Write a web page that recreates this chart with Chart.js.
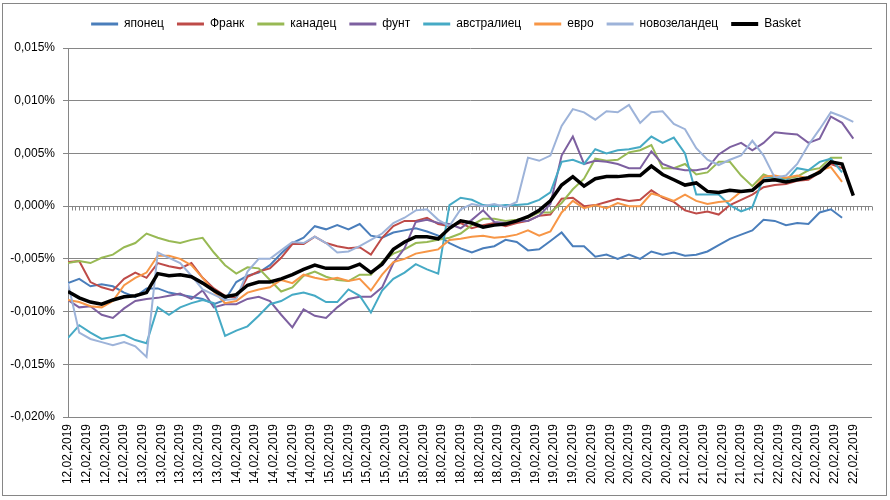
<!DOCTYPE html>
<html lang="ru">
<head>
<meta charset="utf-8">
<title>Basket</title>
<script src="https://cdn.jsdelivr.net/npm/chart.js@4.4.1/dist/chart.umd.min.js"></script>
<style>
  html, body { margin: 0; padding: 0; background: #fff; }
  #wrap { width: 890px; height: 500px; }
</style>
</head>
<body>
<div id="wrap"><canvas id="basket-chart" width="890" height="500"></canvas></div>
<script>
// Подписи оси X: дата на каждой пятой строке таблицы
var labelDays = ['12,02,2019', '13,02,2019', '14,02,2019', '15,02,2019', '18,02,2019',
                 '19,02,2019', '20,02,2019', '21,02,2019', '22,02,2019'];
var labelsPerDay = [4, 5, 5, 5, 5, 4, 5, 5, 5];

var ROWS = 216;       // строк (категорий) на оси X
var LABEL_STEP = 5;   // подпись у каждой пятой строки
var SAMPLE_STEP = 3;

// Подписи оси Y, в тысячных долях процента
var yTicks = [-20, -15, -10, -5, 0, 5, 10, 15];

// Значения рядов, в тысячных долях процента (0,001%)
var yen = [-7.3, -6.9, -7.6, -7.4, -7.6, -8.2, -8.6, -7.8, -7.8, -8.2,
           -8.4, -8.6, -8.8, -9.3, -8.9, -7.2, -6.6, -6.3, -5.6, -4.5,
           -3.5, -3.0, -1.9, -2.2, -1.8, -2.2, -1.7, -2.8, -3.0, -2.5,
           -2.3, -2.1, -2.4, -2.8, -3.5, -4.0, -4.4, -4.0, -3.8, -3.2,
           -3.4, -4.2, -4.1, -3.3, -2.5, -3.8, -3.8, -4.8, -4.6, -5.0,
           -4.6, -5.0, -4.3, -4.6, -4.4, -4.7, -4.6, -4.3, -3.7, -3.1,
           -2.7, -2.3, -1.3, -1.4, -1.8, -1.6, -1.7, -0.6, -0.3, -1.1,
           null];
var franc = [-5.3, -5.2, -7.2, -7.7, -8.0, -6.9, -6.3, -6.8, -5.4, -5.7,
             -5.9, -5.4, -6.8, -7.8, -8.5, -8.7, -6.7, -6.2, -5.9, -4.9,
             -3.6, -3.6, -2.9, -3.5, -3.8, -4.0, -3.9, -4.6, -3.0, -1.9,
             -1.4, -1.4, -1.1, -1.7, -1.9, -1.6, -2.1, -1.8, -1.6, -1.9,
             -1.6, -1.4, -0.9, -0.8, 0.7, 0.8, 0.0, 0.1, 0.4, 0.7,
             0.5, 0.6, 1.5, 0.8, 0.4, -0.4, -0.7, -0.5, -0.8, 0.1,
             0.6, 1.1, 1.8, 2.0, 2.1, 2.4, 2.5, 3.2, 4.0, 3.6,
             null];
var cad = [-5.4, -5.2, -5.4, -4.9, -4.6, -3.9, -3.5, -2.6, -3.0, -3.3,
           -3.5, -3.2, -3.0, -4.4, -5.6, -6.4, -5.8, -5.9, -7.0, -8.1,
           -7.7, -6.6, -6.2, -6.7, -7.0, -7.1, -6.5, -6.5, -5.3, -4.5,
           -4.1, -3.5, -3.4, -3.2, -3.0, -2.6, -1.8, -1.2, -1.2, -1.4,
           -1.3, -1.1, -0.6, -0.6, 0.3, 1.6, 2.6, 4.5, 4.3, 4.4,
           5.1, 5.3, 5.8, 3.6, 3.6, 4.0, 3.0, 3.2, 4.2, 4.2,
           2.9, 1.9, 3.0, 2.6, 2.6, 2.8, 3.4, 3.6, 4.6, 4.6,
           null];
var gbp = [-8.9, -9.6, -9.5, -10.3, -10.6, -9.7, -9.0, -8.8, -8.7, -8.5,
           -8.3, -8.8, -8.0, -9.6, -9.3, -9.3, -8.8, -8.6, -9.0, -10.3,
           -11.5, -9.8, -10.4, -10.6, -9.6, -8.8, -8.6, -8.6, -7.7, -5.4,
           -4.0, -1.5, -1.3, -1.6, -1.7, -2.1, -1.3, -0.4, -1.5, -1.6,
           -1.4, -1.4, -0.9, 0.2, 4.8, 6.6, 4.0, 4.3, 4.2, 4.0,
           3.6, 3.6, 5.2, 4.0, 3.6, 3.4, 3.4, 3.6, 4.9, 5.6,
           6.0, 5.3, 6.0, 7.0, 6.9, 6.8, 6.0, 6.4, 8.5, 7.9,
           6.4];
var aud = [-12.5, -11.3, -12.0, -12.6, -12.4, -12.2, -12.7, -13.0, -9.6, -10.3,
           -9.6, -9.2, -8.9, -9.2, -12.3, -11.8, -11.4, -10.4, -9.3, -9.0,
           -8.4, -8.2, -8.5, -9.1, -9.1, -7.9, -8.5, -10.1, -8.0, -6.9,
           -6.3, -5.5, -6.0, -6.4, 0.1, 0.8, 0.6, 0.1, 0.0, 0.1,
           0.1, 0.2, 0.6, 1.3, 4.2, 4.4, 4.0, 5.4, 5.0, 5.3,
           5.4, 5.6, 6.6, 6.0, 6.5, 5.0, 1.1, 1.1, 1.1, 0.1,
           -0.5, -0.1, 2.7, 2.8, 2.4, 3.6, 3.4, 4.2, 4.5, 3.2,
           null];
var eur = [-8.9, -9.1, -9.5, -9.6, -9.0, -7.5, -6.8, -6.3, -4.7, -4.7,
           -5.0, -5.6, -6.8, -8.1, -9.2, -9.0, -8.2, -7.9, -7.7, -7.0,
           -7.3, -6.5, -6.8, -7.0, -6.8, -7.1, -6.9, -8.0, -6.5, -5.3,
           -5.0, -4.5, -4.3, -4.1, -3.2, -3.1, -2.9, -2.8, -3.0, -2.9,
           -2.7, -2.3, -2.8, -2.4, -0.6, 0.5, -0.2, 0.1, -0.2, 0.3,
           0.0, 0.0, 1.2, 0.9, 0.5, 1.1, 0.5, 0.2, 0.4, 0.5,
           1.4, 1.5, 2.8, 2.9, 2.7, 2.9, 2.6, 3.4, 3.7, 2.3,
           null];
var nzd = [-7.3, -12.0, -12.6, -12.9, -13.2, -12.9, -13.3, -14.3, -4.4, -4.9,
           -5.4, -6.6, -7.9, -8.4, -8.9, -8.8, -6.2, -5.0, -5.0, -4.2,
           -3.4, -3.5, -2.9, -3.5, -4.4, -4.3, -3.8, -3.2, -2.6, -1.6,
           -1.1, -0.4, -0.3, -1.3, -1.9, -0.3, 0.2, 0.0, 0.2, -0.1,
           0.4, 4.6, 4.3, 4.8, 7.6, 9.2, 8.9, 8.2, 9.0, 8.9,
           9.6, 7.9, 8.9, 9.0, 7.8, 7.3, 5.5, 4.4, 3.9, 4.4,
           4.8, 6.2, 4.8, 2.7, 2.9, 4.0, 5.8, 7.3, 8.9, 8.5,
           8.0];
var basket = [-8.1, -8.7, -9.1, -9.3, -8.9, -8.6, -8.5, -8.2, -6.4, -6.6,
              -6.5, -6.7, -7.3, -8.0, -8.6, -8.4, -7.5, -7.2, -7.2, -6.9,
              -6.5, -6.0, -5.6, -5.9, -5.9, -5.9, -5.5, -6.3, -5.5, -4.1,
              -3.4, -2.9, -2.9, -3.1, -2.1, -1.4, -1.6, -2.0, -1.8, -1.7,
              -1.4, -1.0, -0.4, 0.5, 2.0, 2.8, 1.9, 2.6, 2.8, 2.8,
              2.9, 2.9, 3.8, 3.0, 2.5, 2.0, 2.2, 1.4, 1.3, 1.5,
              1.4, 1.5, 2.4, 2.5, 2.3, 2.5, 2.7, 3.2, 4.2, 4.0,
              1.0];

var seriesNames = ['японец', 'Франк', 'канадец', 'фунт', 'австралиец', 'евро', 'новозеландец', 'Basket'];
var seriesValues = [yen, franc, cad, gbp, aud, eur, nzd, basket];
var seriesColors = ['#4A7EBB', '#BE4B48', '#98B954', '#7D60A0', '#46AAC5', '#F79646', '#9DB3D9', '#000000'];

var GRID_COLOR = '#868686';

// Список подписей оси X
function buildTickLabels() {
    var out = [];
    for (var d = 0; d < labelDays.length; d++) {
        for (var j = 0; j < labelsPerDay[d]; j++) {
            out.push(labelDays[d]);
        }
    }
    return out;
}

// "0,015%" из значения в тысячных долях процента
function formatPct(v) {
    return (v / 1000).toFixed(3).replace('.', ',') + '%';
}

function toPoints(values) {
    var pts = [];
    for (var k = 0; k < values.length; k++) {
        if (values[k] !== null) pts.push({ x: k * SAMPLE_STEP, y: values[k] });
    }
    return pts;
}

// Белый фон и рамка области диаграммы
var frame = {
    id: 'frame',
    beforeDraw: function(chart) {
        var ctx = chart.ctx;
        ctx.save();
        ctx.fillStyle = '#fff';
        ctx.fillRect(0, 0, chart.width, chart.height);
        ctx.strokeStyle = GRID_COLOR;
        ctx.lineWidth = 1;
        ctx.strokeRect(2.5, 3.5, 884, 492);
        ctx.restore();
    }
};

// Мелкие засечки категорий на нулевой линии
var zeroTicks = {
    id: 'zeroTicks',
    beforeDatasetsDraw: function(chart) {
        var ctx = chart.ctx, x = chart.scales.x, y = chart.scales.y;
        var y0 = Math.round(y.getPixelForValue(0)) + 0.5;
        ctx.save();
        ctx.strokeStyle = GRID_COLOR;
        ctx.lineWidth = 1;
        ctx.beginPath();
        for (var i = 0; i < ROWS; i++) {
            var px = Math.round(x.getPixelForValue(i)) + 0.5;
            ctx.moveTo(px, y0);
            ctx.lineTo(px, y0 + 4);
        }
        ctx.stroke();
        ctx.restore();
    }
};

// Высота легенды и её сдвиг вправо, как в оригинале
var legendPlace = {
    id: 'legendPlace',
    beforeInit: function(chart) {
        var fit = chart.legend.fit;
        chart.legend.fit = function() {
            fit.call(this);
            this.height = 43;
        };
    },
    afterLayout: function(chart) {
        chart.legend.left += 20;
    }
};

function createBasketChart() {
    var canvas = document.getElementById('basket-chart');
    var tickLabels = buildTickLabels();

    var datasets = seriesNames.map(function(name, i) {
        var isBasket = name === 'Basket';
        return {
            label: name,
            data: toPoints(seriesValues[i]),
            borderColor: seriesColors[i],
            backgroundColor: seriesColors[i],
            borderWidth: isBasket ? 3.5 : 2,
            pointRadius: 0,
            tension: 0,
            order: seriesNames.length - 1 - i
        };
    });

    new Chart(canvas, {
        type: 'line',
        data: { datasets: datasets },
        options: {
            responsive: false,
            animation: false,
            devicePixelRatio: 1,
            layout: { padding: { top: 5, left: 0, right: 18, bottom: 0 } },
            plugins: {
                tooltip: { enabled: false },
                legend: {
                    position: 'top',
                    labels: {
                        usePointStyle: true,
                        pointStyle: 'line',
                        pointStyleWidth: 27,
                        boxHeight: 12,
                        padding: 13,
                        color: '#000',
                        sort: function(a, b) { return a.datasetIndex - b.datasetIndex; },
                        generateLabels: function(chart) {
                            var items = Chart.defaults.plugins.legend.labels.generateLabels(chart);
                            items.forEach(function(it) {
                                it.lineWidth = it.text === 'Basket' ? 4 : 3;
                            });
                            return items;
                        }
                    }
                }
            },
            scales: {
                x: {
                    type: 'linear',
                    min: 0,
                    max: ROWS - 1,
                    grid: { display: false, drawTicks: false },
                    border: { display: false },
                    ticks: {
                        stepSize: LABEL_STEP,
                        autoSkip: false,
                        minRotation: 90,
                        maxRotation: 90,
                        padding: 7,
                        color: '#000',
                        callback: function(value) {
                            var n = value / LABEL_STEP;
                            return Number.isInteger(n) && tickLabels[n] ? tickLabels[n] : null;
                        }
                    },
                    afterFit: function(scale) { scale.height = 83; }
                },
                y: {
                    min: yTicks[0],
                    max: yTicks[yTicks.length - 1],
                    grid: { color: GRID_COLOR, tickLength: 5 },
                    border: { color: GRID_COLOR },
                    ticks: {
                        stepSize: yTicks[1] - yTicks[0],
                        padding: 8,
                        color: '#000',
                        callback: function(v) { return formatPct(v); }
                    },
                    afterFit: function(scale) { scale.width = 68; }
                }
            }
        },
        plugins: [frame, zeroTicks, legendPlace]
    });
}

Chart.defaults.font.family = "'Liberation Sans', Arial, sans-serif";
Chart.defaults.font.size = 12;

document.addEventListener('DOMContentLoaded', function() {
    createBasketChart();
});
</script>
</body>
</html>
